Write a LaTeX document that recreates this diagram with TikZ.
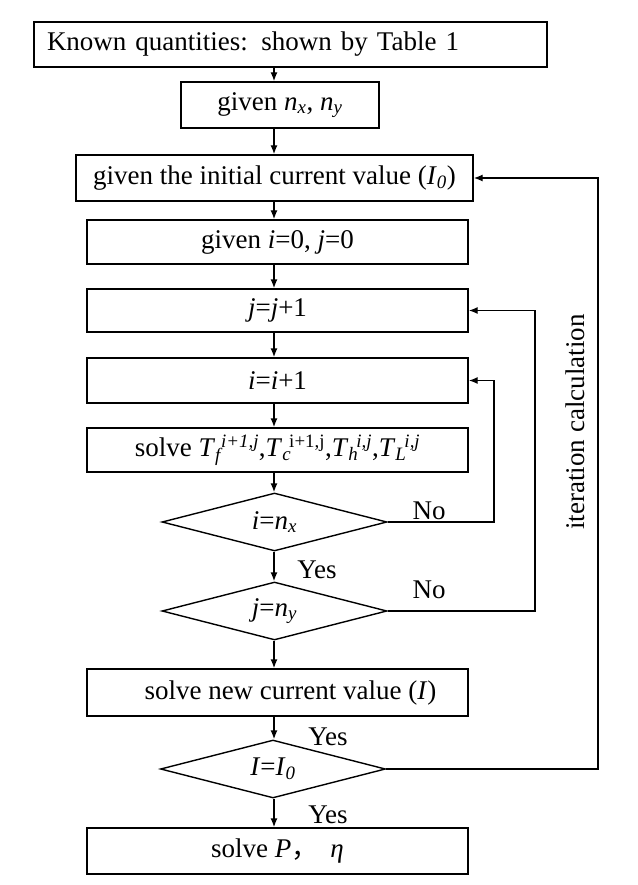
\documentclass[tikz,border=0pt]{standalone}
\usepackage{fontspec}
\setmainfont{Liberation Serif}
\newfontfamily\cjk{Noto Sans CJK SC}
\usetikzlibrary{arrows.meta, shapes.geometric}
\newcommand{\flowfont}{\fontsize{27}{32}\selectfont}
\newcommand{\iv}[1]{\textit{#1}}
\newcommand{\Tij}[2]{\iv{T}\textsubscript{#1}\kern-2pt\textsuperscript{#2}}

\begin{document}
\begin{tikzpicture}[x=1pt, y=-1pt, line width=1.4pt,
    every node/.style={font=\flowfont},
    box/.style={draw, rectangle, minimum width=381pt, minimum height=45pt, inner sep=0pt},
    decide/.style={draw, diamond, shape aspect=3.88, minimum width=225pt, minimum height=58pt, inner sep=0pt},
    arr/.style={-{Latex[length=9pt, width=7pt]}},
    lbl/.style={inner sep=0pt}]
    \useasboundingbox (0,0) rectangle (637,885);
    \coordinate (ax) at (274,0);
    % main column
    \node[box, minimum width=513pt, text width=487pt, align=left, inner xsep=13pt] (known) at (290.5,44.5) {Known quantities: shown by Table 1};
    \node[box, minimum width=198pt, minimum height=46pt] (grid) at (280,105) {given \iv{n}\textsubscript{\iv{x}}, \iv{n}\textsubscript{\iv{y}}};
    \node[box, minimum width=397pt, minimum height=46pt] (init) at (274.5,178) {given the initial current value (\iv{I}\textsubscript{\iv{0}})};
    \node[box, minimum height=44pt] (zero) at (277.5,242) {given \iv{i}=0, \iv{j}=0};
    \node[box, minimum height=43pt] (incj) at (277.5,310.5) {\iv{j}=\iv{j}+1};
    \node[box] (inci) at (277.5,380.5) {\iv{i}=\iv{i}+1};
    \node[box, minimum height=44pt] (temp) at (277.5,450) {solve \Tij{\iv{f}}{\iv{i+1,j}},\Tij{\iv{c}}{i+1,j},\Tij{\iv{h}}{\iv{i,j}},\Tij{\iv{L}}{\iv{i,j}}};
    \node[decide] (endi) at (274.5,522) {\iv{i}=\iv{n}\textsubscript{\iv{x}}};
    \node[decide] (endj) at (274.5,611) {\iv{j}=\iv{n}\textsubscript{\iv{y}}};
    \node[box, minimum height=47pt] (newI) at (277.5,692.5) {\hspace{26pt}solve new current value (\iv{I})};
    \node[decide] (conv) at (273,769) {\iv{I}=\iv{I}\textsubscript{\iv{0}}};
    \node[box, minimum height=46pt] (power) at (277.5,851) {solve \iv{P}{\cjk ，}\hspace{12pt}\iv{η}\hspace{34pt}};
    % labels
    \node[lbl] (noi) at (429,511) {No};
    \node[lbl] (noj) at (429,590) {No};
    \node[lbl] (yesi) at (317,570) {Yes};
    \node[lbl] (yesn) at (328,737) {Yes};
    \node[lbl] (yesc) at (328,815) {Yes};
    \node[lbl, rotate=90] (iter) at (575,422) {iteration calculation};
    % corners of the loops
    \coordinate (ci) at (494,522);
    \coordinate (cj) at (535,611);
    \coordinate (cc) at (598,769);
    % connectors
    \draw[arr] (known.south -| ax) -- (grid.north -| ax);
    \draw[arr] (grid.south -| ax) -- (init.north -| ax);
    \draw[arr] (init.south -| ax) -- (zero.north -| ax);
    \draw[arr] (zero.south -| ax) -- (incj.north -| ax);
    \draw[arr] (incj.south -| ax) -- (inci.north -| ax);
    \draw[arr] (inci.south -| ax) -- (temp.north -| ax);
    \draw[arr] (temp.south -| ax) -- (endi.north -| ax);
    \draw[arr] (endi.south -| ax) -- (endj.north -| ax);
    \draw[arr] (endj.south -| ax) -- (newI.north -| ax);
    \draw[arr] (newI.south -| ax) -- (conv.north -| ax);
    \draw[arr] (conv.south -| ax) -- (power.north -| ax);
    \draw[arr] (endi.east) -- (ci) |- (inci.east);
    \draw[arr] (endj.east) -- (cj) |- (incj.east);
    \draw[arr] (conv.east) -- (cc) |- (init.east);
\end{tikzpicture}
\end{document}
